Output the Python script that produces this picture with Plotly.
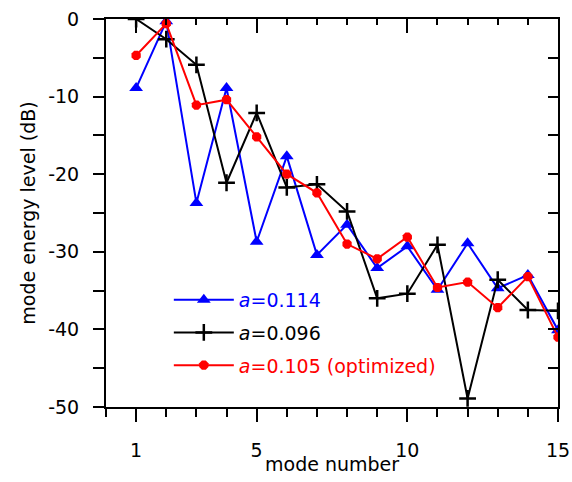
import plotly.graph_objects as go

modes = list(range(1, 16))
blue_114 = [-8.9, -0.3, -23.7, -8.9, -28.7, -17.7, -30.4, -26.5, -32.1, -29.3, -34.9, -28.9, -34.7, -33.0, -40.1]
black_096 = [0.0, -2.6, -5.9, -21.1, -12.1, -21.7, -21.3, -24.8, -36.0, -35.4, -29.1, -48.9, -33.6, -37.5, -37.6]
red_105 = [-4.7, -0.6, -11.1, -10.4, -15.2, -20.0, -22.4, -29.0, -30.9, -28.1, -34.6, -33.9, -37.2, -33.2, -41.0]

labels = ["<i>a</i>=0.114", "<i>a</i>=0.096", "<i>a</i>=0.105 (optimized)"]
colors = ["#0000ff", "#000000", "#ff0000"]
x_major = [1, 5, 10, 15]
y_major = [0, -10, -20, -30, -40, -50]
y_major_text = ["0", "-10", "-20", "-30", "-40", "-50"]

FONT = "DejaVu Sans, sans-serif"


def legend_name(text, color):
    return "<span style='color:%s'>%s</span>" % (color, text)


fig = go.Figure()
fig.add_trace(go.Scatter(x=modes, y=blue_114, name=legend_name(labels[0], colors[0]),
                         legendgroup="g1", mode="lines+markers",
                         line=dict(color=colors[0], width=2),
                         marker=dict(symbol="triangle-up", size=12, color=colors[0])))
fig.add_trace(go.Scatter(x=modes, y=black_096, name=legend_name(labels[1], colors[1]),
                         legendgroup="g2", mode="lines+markers",
                         line=dict(color=colors[1], width=2),
                         marker=dict(symbol="cross-thin", size=12, color=colors[1],
                                     line=dict(color=colors[1], width=2.5))))
fig.add_trace(go.Scatter(x=modes, y=red_105, name=legend_name(labels[2], colors[2]),
                         legendgroup="g3", mode="lines+markers",
                         line=dict(color=colors[2], width=2),
                         marker=dict(symbol="octagon", size=10, color=colors[2])))
# invisible carrier so the mirrored (top/right) axes are drawn
fig.add_trace(go.Scatter(x=modes, y=red_105, xaxis="x2", yaxis="y2", mode="markers",
                         marker=dict(opacity=0), showlegend=False, hoverinfo="skip"))

axis_common = dict(showline=True, linecolor="black", linewidth=2, showgrid=False,
                   zeroline=False, tickcolor="black", tickwidth=2, automargin=False)

fig.update_layout(
    width=572, height=482,
    margin=dict(l=106, r=14, t=19, b=75, autoexpand=False),
    paper_bgcolor="white", plot_bgcolor="white",
    font=dict(family=FONT, size=19, color="black"),
    showlegend=True,
    legend=dict(x=0.139, y=0.325, xanchor="left", yanchor="top",
                bgcolor="rgba(0,0,0,0)", font=dict(size=19),
                itemwidth=60, tracegroupgap=5),
    xaxis=dict(range=[0, 15], tickvals=x_major, ticks="outside", ticklen=13,
               ticklabelstandoff=12,
               minor=dict(dtick=1, tick0=0, ticks="outside", ticklen=8, tickwidth=2, tickcolor="black"),
               **axis_common),
    yaxis=dict(range=[-50, 0], tickvals=y_major, ticktext=y_major_text, ticks="outside", ticklen=11,
               ticklabelstandoff=10,
               minor=dict(dtick=5, tick0=0, ticks="outside", ticklen=11, tickwidth=2, tickcolor="black"),
               title=dict(text="mode energy level (dB)", standoff=8, font=dict(size=19)),
               **axis_common),
    xaxis2=dict(range=[0, 15], overlaying="x", side="top", tickvals=x_major,
                ticks="inside", ticklen=14, showticklabels=False,
                minor=dict(dtick=1, tick0=0, ticks="inside", ticklen=6, tickwidth=2, tickcolor="black"),
                **axis_common),
    yaxis2=dict(range=[-50, 0], overlaying="y", side="right", tickvals=y_major,
                ticks="inside", ticklen=10, showticklabels=False,
                minor=dict(dtick=5, tick0=0, ticks="inside", ticklen=10, tickwidth=2, tickcolor="black"),
                **axis_common),
    annotations=[dict(text="mode number", x=0.5, y=0, xref="paper", yref="paper",
                      xanchor="center", yanchor="middle", yshift=-57, showarrow=False,
                      font=dict(size=19))],
)
fig.write_html("out.html", config={"displayModeBar": False},
               post_script="document.body.style.margin='0';")
